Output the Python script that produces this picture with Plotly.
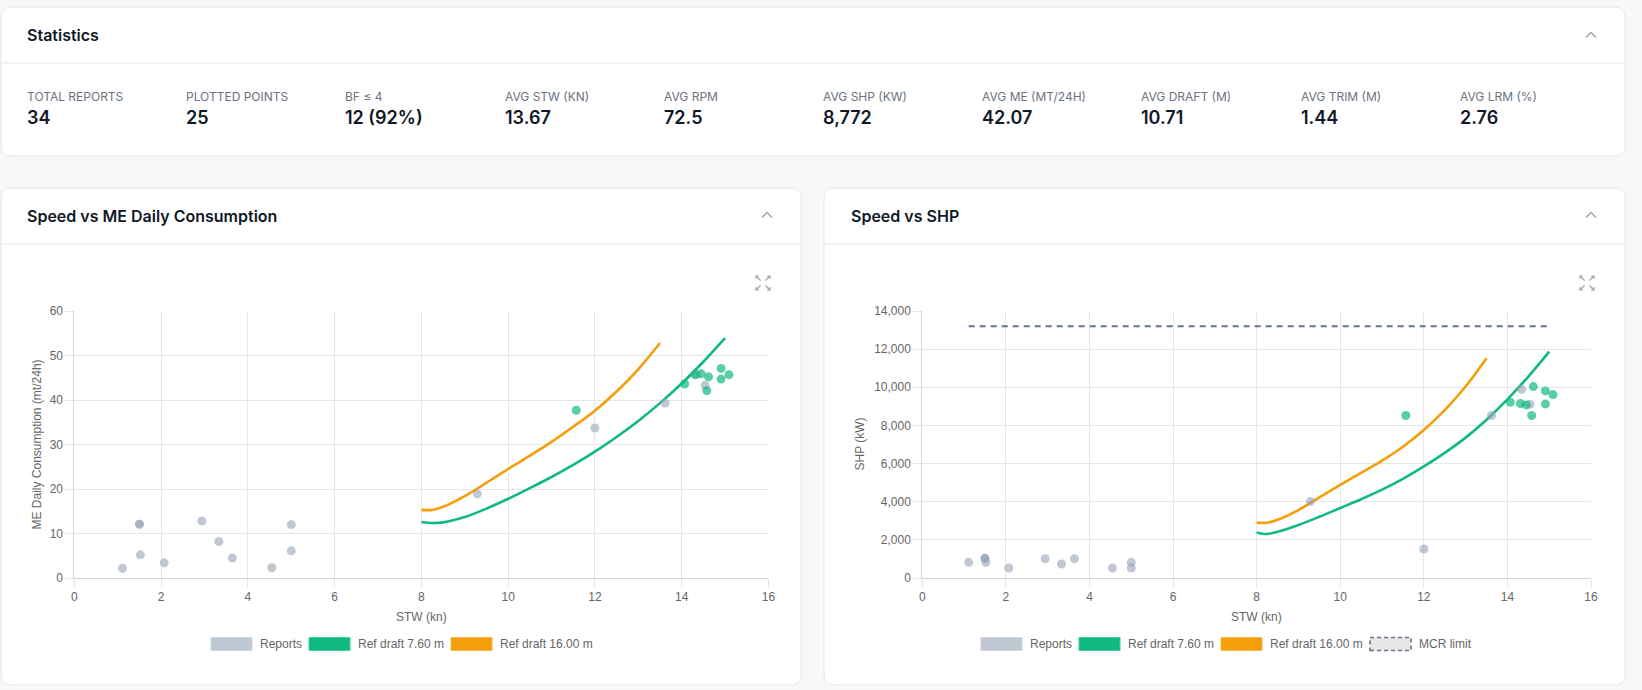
import plotly.graph_objects as go

W, H = 1642, 690

# ---------------- data ----------------
stat_labels = ["TOTAL REPORTS", "PLOTTED POINTS", "BF ≤ 4", "AVG STW (KN)", "AVG RPM",
               "AVG SHP (KW)", "AVG ME (MT/24H)", "AVG DRAFT (M)", "AVG TRIM (M)", "AVG LRM (%)"]
stat_values = ["34", "25", "12 (92%)", "13.67", "72.5", "8,772", "42.07", "10.71", "1.44", "2.76"]

# Reports (grey points)
rep_stw = [1.11, 1.50, 1.50, 1.52, 2.07, 2.94, 3.33, 3.64, 4.55, 5.00, 5.00, 9.29, 12.00, 13.62, 14.34, 14.54]
rep_me = [2.2, 12.1, 12.1, 5.2, 3.4, 12.8, 8.2, 4.5, 2.3, 12.0, 6.1, 18.9, 33.7, 39.3, 45.7, 43.3]
rep_shp = [820, 1030, 1030, 820, 524, 1012, 733, 1012, 524, 820, 524, 4016, 1520, 8519, 9898, 9112]

# Good-weather reports (green points)
good_stw = [11.57, 14.07, 14.31, 14.45, 14.58, 14.62, 14.91, 14.91, 15.09]
good_me = [37.7, 43.6, 45.7, 45.9, 42.1, 45.2, 47.1, 44.7, 45.7]
good_shp = [8519, 9217, 9147, 9077, 8519, 10037, 9810, 9130, 9618]

# Reference curves
ref_lo_stw = [8.0, 8.25, 8.5, 9.0, 9.5, 10.0, 10.5, 11.0, 11.5, 12.0, 12.5, 13.0, 13.5, 14.0, 14.5, 15.0]
ref_lo_me = [12.6, 12.35, 12.5, 13.7, 15.6, 17.8, 20.2, 22.7, 25.4, 28.4, 31.7, 35.3, 39.3, 43.7, 48.6, 53.9]
ref_lo_shp = [2390, 2310, 2420, 2780, 3210, 3670, 4130, 4630, 5200, 5850, 6560, 7360, 8300, 9370, 10560, 11870]

ref_hi_stw = [8.0, 8.25, 8.5, 9.0, 9.5, 10.0, 10.5, 11.0, 11.5, 12.0, 12.5, 13.0, 13.5]
ref_hi_me = [15.3, 15.3, 16.0, 18.4, 21.4, 24.5, 27.5, 30.6, 34.0, 37.6, 41.9, 46.9, 52.8]
ref_hi_shp = [2900, 2900, 3050, 3560, 4230, 4880, 5510, 6150, 6880, 7760, 8800, 10040, 11520]

mcr_stw = [1.11, 15.0]
mcr_shp = [13200, 13200]

series_names = ["Reports", "Ref draft 7.60 m", "Ref draft 16.00 m", "MCR limit"]

# ---------------- styles ----------------
C_GREY_PT = "rgba(148,163,184,0.6)"
C_GREEN_PT = "rgba(16,185,129,0.7)"
C_GREEN = "#10b981"
C_ORANGE = "#f59e0b"
C_MCR = "#64748b"
C_GRID = "#e6e6e6"
C_TXT = "#666666"
C_BORDER = "#e5e7eb"
C_ICON = "#9ca3af"
TICKFONT = dict(family="Liberation Sans, Arial, sans-serif", size=12, color=C_TXT)
UI = "Inter, Noto Sans, sans-serif"


def fx(x):
    return x / W


def fy(y):
    return 1 - y / H


fig = go.Figure()

# ---------------- traces ----------------
def add_chart(xa, ya, y_rep, y_good, y_lo, y_hi):
    fig.add_trace(go.Scatter(x=ref_lo_stw, y=y_lo, mode="lines", line=dict(color=C_GREEN, width=2.6, shape="spline"),
                             xaxis=xa, yaxis=ya, showlegend=False, name=series_names[1]))
    fig.add_trace(go.Scatter(x=ref_hi_stw, y=y_hi, mode="lines", line=dict(color=C_ORANGE, width=2.6, shape="spline"),
                             xaxis=xa, yaxis=ya, showlegend=False, name=series_names[2]))
    fig.add_trace(go.Scatter(x=rep_stw, y=y_rep, mode="markers", marker=dict(color=C_GREY_PT, size=9, line=dict(width=0)),
                             xaxis=xa, yaxis=ya, showlegend=False, name=series_names[0]))
    fig.add_trace(go.Scatter(x=good_stw, y=y_good, mode="markers", marker=dict(color=C_GREEN_PT, size=9, line=dict(width=0)),
                             xaxis=xa, yaxis=ya, showlegend=False, name=series_names[0]))


add_chart("x", "y", rep_me, good_me, ref_lo_me, ref_hi_me)
fig.add_trace(go.Scatter(x=mcr_stw, y=mcr_shp, mode="lines", line=dict(color=C_MCR, width=2, dash="6px,5px"),
                         xaxis="x2", yaxis="y2", showlegend=False, name=series_names[3]))
add_chart("x2", "y2", rep_shp, good_shp, ref_lo_shp, ref_hi_shp)

# ---------------- axes ----------------
ydom = [fy(578), fy(311)]
common = dict(showgrid=True, gridcolor=C_GRID, gridwidth=1, zeroline=False, showline=True,
              linecolor="#d4d4d4", linewidth=1, ticks="outside", ticklen=8, tickcolor=C_GRID,
              tickfont=TICKFONT, fixedrange=True, automargin=False)
fig.update_layout(
    xaxis=dict(domain=[fx(74.4), fx(768.4)], range=[0, 16], dtick=2, anchor="y", **common),
    yaxis=dict(domain=ydom, range=[0, 60], dtick=10, anchor="x", **common),
    xaxis2=dict(domain=[fx(922.3), fx(1591)], range=[0, 16], dtick=2, anchor="y2", **common),
    yaxis2=dict(domain=ydom, range=[0, 14000], dtick=2000, tickformat=",d", anchor="x2", **common),
)

# ---------------- shapes ----------------
shapes = []


def rrect(x0, y0, x1, y1, r=10, fill="white", line=C_BORDER):
    X0, X1 = fx(x0), fx(x1)
    Y0, Y1 = fy(y0), fy(y1)
    rx, ry = r / W, r / H
    p = (f"M {X0+rx},{Y0} L {X1-rx},{Y0} Q {X1},{Y0} {X1},{Y0-ry} "
         f"L {X1},{Y1+ry} Q {X1},{Y1} {X1-rx},{Y1} "
         f"L {X0+rx},{Y1} Q {X0},{Y1} {X0},{Y1+ry} "
         f"L {X0},{Y0-ry} Q {X0},{Y0} {X0+rx},{Y0} Z")
    shapes.append(dict(type="path", xref="paper", yref="paper", path=p, fillcolor=fill,
                       line=dict(color=line, width=1), layer="below"))


def hline(x0, x1, y, color=C_BORDER, width=1):
    shapes.append(dict(type="line", xref="paper", yref="paper", x0=fx(x0), x1=fx(x1), y0=fy(y), y1=fy(y),
                       line=dict(color=color, width=width), layer="below"))


def pline(pts, color=C_ICON, width=1.4):
    p = "M " + " L ".join(f"{fx(a)},{fy(b)}" for a, b in pts)
    shapes.append(dict(type="path", xref="paper", yref="paper", path=p,
                       line=dict(color=color, width=width), layer="above"))


def caret(cx, cy):
    pline([(cx - 5, cy + 2.5), (cx, cy - 2.5), (cx + 5, cy + 2.5)], width=1.3)


def expand_icon(cx, cy):
    s, g, h = 7, 2.5, 3
    for dx, dy in [(-1, -1), (1, -1), (-1, 1), (1, 1)]:
        pline([(cx + dx * g, cy + dy * g), (cx + dx * s, cy + dy * s)], width=1.2)
        pline([(cx + dx * (s - h), cy + dy * s), (cx + dx * s, cy + dy * s), (cx + dx * s, cy + dy * (s - h))], width=1.2)


# cards
rrect(1, 7, 1625, 156)
hline(1, 1625, 63)
rrect(1, 188, 801, 685)
hline(1, 801, 244)
rrect(824, 188, 1625, 685)
hline(824, 1625, 244)

caret(1591, 35)
caret(767, 215)
caret(1591, 215)
expand_icon(763, 283)
expand_icon(1587, 283)


# legend boxes
def legbox(x0, fill, border, dash=None, width=1):
    d = dict(type="rect", xref="paper", yref="paper", x0=fx(x0), x1=fx(x0 + 41), y0=fy(650.5), y1=fy(637.5),
             fillcolor=fill, line=dict(color=border, width=width), layer="above")
    if dash:
        d["line"]["dash"] = dash
    shapes.append(d)


legbox(211, "#bfc7d3", "#cdd3dc")
legbox(309, C_GREEN, "#3fcf9c")
legbox(451, C_ORANGE, "#f8b84e")
legbox(981, "#bfc7d3", "#cdd3dc")
legbox(1079, C_GREEN, "#3fcf9c")
legbox(1221, C_ORANGE, "#f8b84e")
legbox(1370, "#e6e6e6", C_MCR, dash="4px,3px", width=1.6)

fig.update_layout(shapes=shapes)

# ---------------- annotations ----------------
ann = []


def text(x, y, s, size=12, color=C_TXT, family=TICKFONT["family"], weight=None, anchor="left", angle=0):
    f = dict(family=family, size=size, color=color)
    if weight:
        f["weight"] = weight
    ann.append(dict(xref="paper", yref="paper", x=fx(x), y=fy(y), text=s, showarrow=False,
                    xanchor=anchor, yanchor="middle", font=f, textangle=angle))


text(25, 35, "Statistics", size=16, color="#111827", family=UI, weight=600)
for i, (lab, val) in enumerate(zip(stat_labels, stat_values)):
    x = 25 + i * 159.2
    text(x, 96.5, lab, size=12, color="#6b7280", family=UI)
    text(x, 117.5, val, size=18, color="#111827", family=UI, weight=600)

text(25, 216, "Speed vs ME Daily Consumption", size=16, color="#111827", family=UI, weight=600)
text(849, 216, "Speed vs SHP", size=16, color="#111827", family=UI, weight=600)

text(421.4, 617, "STW (kn)", anchor="center")
text(1256.6, 617, "STW (kn)", anchor="center")
text(36, 444.5, "ME Daily Consumption (mt/24h)", anchor="center", angle=-90)
text(859, 444.5, "SHP (kW)", anchor="center", angle=-90)

text(258, 644, series_names[0])
text(356, 644, series_names[1])
text(498, 644, series_names[2])
text(1028, 644, series_names[0])
text(1126, 644, series_names[1])
text(1268, 644, series_names[2])
text(1417, 644, series_names[3])

fig.update_layout(
    annotations=ann,
    width=W, height=H,
    margin=dict(l=0, r=0, t=0, b=0, pad=0, autoexpand=False),
    paper_bgcolor="#f8f8f8",
    plot_bgcolor="rgba(0,0,0,0)",
    font=TICKFONT,
    showlegend=False,
    hovermode="closest",
)

fig.write_html("out.html", config=dict(displayModeBar=False))
